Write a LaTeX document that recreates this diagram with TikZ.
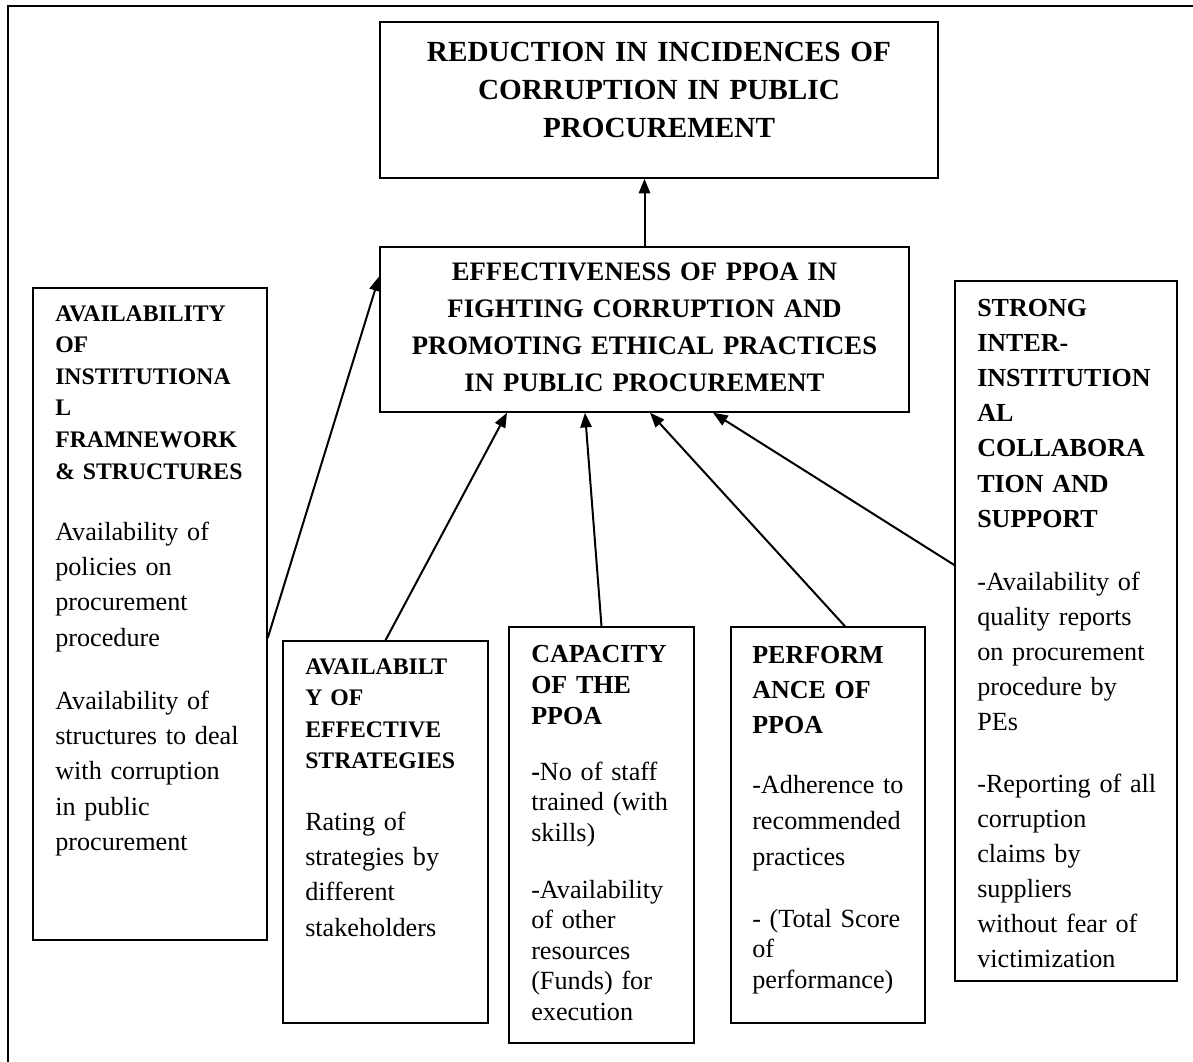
\documentclass[tikz,border=0pt]{standalone}
\usepackage{fontspec}
\setmainfont{Liberation Serif}
\usetikzlibrary{arrows.meta,calc}
\begin{document}
\begin{tikzpicture}[x=0.75pt,y=-0.75pt,
  pbox/.style={draw,line width=1.1pt,inner sep=0pt,rectangle},
  arr/.style={line width=1.5pt,-{Triangle[length=11pt,width=8.5pt]}},
  ltxt/.style={anchor=base west,inner sep=0pt,align=left,text width=300pt},
  ctxt/.style={anchor=base,inner sep=0pt,align=center,text width=400pt},
  hsmall/.style={font=\bfseries\fontsize{17.8pt}{23.7pt}\selectfont},
  hbig/.style={font=\bfseries\fontsize{19.5pt}{#1}\selectfont},
  body/.style={font=\fontsize{19.65pt}{#1}\selectfont}
]
\useasboundingbox (0,0) rectangle (1193,1061);
% outer frame
\draw[line width=2pt] (8,1070) -- (8,6) -- (1200,6);

% boxes
\node[pbox,minimum width=418.5pt,minimum height=117pt] (top) at (659,100) {};
\node[pbox,minimum width=396.75pt,minimum height=123.75pt] (eff) at (644.5,329.5) {};
\node[pbox,minimum width=175.5pt,minimum height=489pt] (inst) at (150,614) {};
\node[pbox,minimum width=153.75pt,minimum height=286.5pt] (strat) at (385.5,832) {};
\node[pbox,minimum width=138.75pt,minimum height=312pt] (cap) at (601.5,835) {};
\node[pbox,minimum width=145.5pt,minimum height=297pt] (perf) at (828,825) {};
\node[pbox,minimum width=166.5pt,minimum height=525pt] (strong) at (1066,631) {};

% titles
\node[ctxt,font=\bfseries\fontsize{21.9pt}{28.5pt}\selectfont] (top-t) at (659,61)
  {REDUCTION IN INCIDENCES OF\\CORRUPTION IN PUBLIC\\PROCUREMENT};
\node[ctxt,font=\bfseries\fontsize{20pt}{27.75pt}\selectfont] (eff-t) at (644.5,280)
  {EFFECTIVENESS OF PPOA IN\\FIGHTING CORRUPTION AND\\PROMOTING ETHICAL PRACTICES\\IN PUBLIC PROCUREMENT};

% institutional
\node[ltxt,hsmall] (inst-h) at (55,321)
  {AVAILABILITY\\OF\\INSTITUTIONA\\L\\FRAMNEWORK\\\& STRUCTURES};
\node[ltxt,body=26.5pt] (inst-p1) at (55,540)
  {Availability of\\policies on\\procurement\\procedure};
\node[ltxt,body=26.5pt] (inst-p2) at (55,709)
  {Availability of\\structures to deal\\with corruption\\in public\\procurement};

% strategies
\node[ltxt,hsmall] (strat-h) at (305,674)
  {AVAILABILT\\Y OF\\EFFECTIVE\\STRATEGIES};
\node[ltxt,body=26.5pt] (strat-p) at (305,830)
  {Rating of\\strategies by\\different\\stakeholders};

% capacity
\node[ltxt,hbig=23.25pt] (cap-h) at (531,662)
  {CAPACITY\\OF THE\\PPOA};
\node[ltxt,body=22.9pt] (cap-p1) at (531,780)
  {\textbf{-}No of staff\\trained (with\\skills)};
\node[ltxt,body=22.9pt] (cap-p2) at (531,898)
  {-Availability\\of other\\resources\\(Funds) for\\execution};

% performance
\node[ltxt,hbig=26.25pt] (perf-h) at (752,663)
  {PERFORM\\ANCE OF\\PPOA};
\node[ltxt,body=27pt] (perf-p1) at (752,793)
  {-Adherence to\\recommended\\practices};
\node[ltxt,body=22.9pt] (perf-p2) at (752,927)
  {- (Total Score\\of\\performance)};

% strong
\node[ltxt,hbig=26.4pt] (strong-h) at (977,316)
  {STRONG\\INTER-\\INSTITUTION\\AL\\COLLABORA\\TION AND\\SUPPORT};
\node[ltxt,body=26.25pt] (strong-p1) at (977,590)
  {-Availability of\\quality reports\\on procurement\\procedure by\\PEs};
\node[ltxt,body=26.25pt] (strong-p2) at (977,792)
  {-Reporting of all\\corruption\\claims by\\suppliers\\without fear of\\victimization};

% connectors
\draw[arr] (eff.north) -- (eff.north |- top.south);
\draw[arr] ($(inst.east)+(0,24)$) -- ($(eff.north west)+(0,30)$);
\draw[arr] (strat.north) -- ($(eff.south)+(-137.5,0)$);
\draw[arr] (cap.north) -- ($(eff.south)+(-59.5,0)$);
\draw[arr] ($(perf.north)+(17,0)$) -- ($(eff.south)+(5.5,0)$);
\draw[arr] ($(strong.west)+(0,-66)$) -- ($(eff.south)+(68.5,0)$);
\end{tikzpicture}
\end{document}
